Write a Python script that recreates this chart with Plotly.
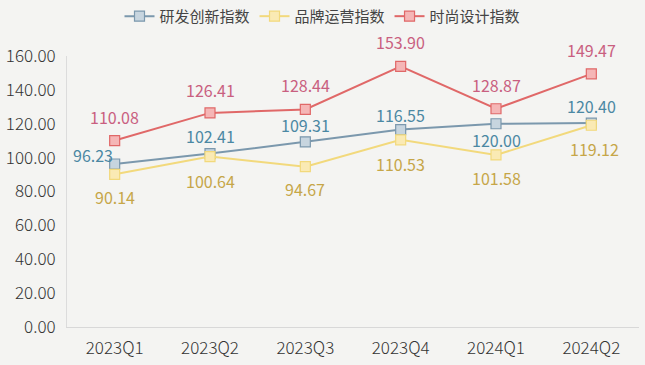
import plotly.graph_objects as go

categories = ["2023Q1", "2023Q2", "2023Q3", "2023Q4", "2024Q1", "2024Q2"]
rd_index = [96.23, 102.41, 109.31, 116.55, 120.00, 120.40]
brand_index = [90.14, 100.64, 94.67, 110.53, 101.58, 119.12]
design_index = [110.08, 126.41, 128.44, 153.90, 128.87, 149.47]
series_names = ["研发创新指数", "品牌运营指数", "时尚设计指数"]
y_ticks = [0, 20, 40, 60, 80, 100, 120, 140, 160]

font_family = "Noto Sans CJK SC, Noto Sans, sans-serif"
x_idx = list(range(len(categories)))

fig = go.Figure()
annotations = []

def add_series(name, values, line_color, fill_color, text_color, shifts):
    fig.add_trace(go.Scatter(
        x=x_idx, y=values, name=name,
        mode="lines+markers",
        line=dict(color=line_color, width=2),
        marker=dict(symbol="square", size=10, color=fill_color,
                    line=dict(color=line_color, width=1.2)),
        cliponaxis=False,
    ))
    for xi, v, (dx, dy) in zip(x_idx, values, shifts):
        annotations.append(dict(
            x=xi, y=v, xref="x", yref="y", text=f"{v:.2f}", showarrow=False,
            xshift=dx, yshift=dy, xanchor="center", yanchor="middle",
            font=dict(color=text_color, size=16, family=font_family),
        ))

add_series(series_names[0], rd_index, "#7b98ad", "#c7d5df", "#4b88a3",
           [(-22, 9), (0, 18), (0, 17), (0, 15), (0, -16), (0, 17)])
add_series(series_names[1], brand_index, "#f2d97c", "#faeab4", "#c6a648",
           [(0, -23), (0, -24), (0, -22), (0, -24), (0, -23), (3, -24)])
add_series(series_names[2], design_index, "#e06868", "#f5b6b6", "#c95f80",
           [(0, 24), (0, 23), (0, 24), (0, 24), (0, 24), (0, 24)])

fig.update_layout(
    width=645, height=365,
    margin=dict(l=65, r=6, t=56, b=38),
    paper_bgcolor="#f4f4f2", plot_bgcolor="#f4f4f2",
    font=dict(family=font_family, color="#3a3a3a", size=15),
    showlegend=True,
    annotations=annotations,
    legend=dict(orientation="h", x=0.5, xanchor="center", xref="container",
                y=0.955, yanchor="middle", yref="container",
                font=dict(size=15, color="#444444"),
                itemwidth=30, bgcolor="rgba(0,0,0,0)"),
    xaxis=dict(
        tickmode="array", tickvals=x_idx, ticktext=categories,
        range=[-0.5, 5.5], showgrid=False, zeroline=False,
        showline=True, linecolor="#d8d8d8", linewidth=1, ticks="",
        ticklabelstandoff=6,
        tickfont=dict(size=17, color="#333333", weight=300),
    ),
    yaxis=dict(
        range=[0, 160], tickvals=y_ticks,
        ticktext=[f"{v:.2f}" for v in y_ticks],
        showgrid=False, zeroline=False, showline=True, linecolor="#dcdcdc",
        linewidth=1, ticks="", ticklen=0, ticklabelstandoff=7,
        tickfont=dict(size=17, color="#333333", weight=300),
    ),
)

fig.write_html(
    "out.html",
    config={"displayModeBar": False},
    post_script="document.body.style.margin='0';document.body.style.background='#f4f4f2';",
)
